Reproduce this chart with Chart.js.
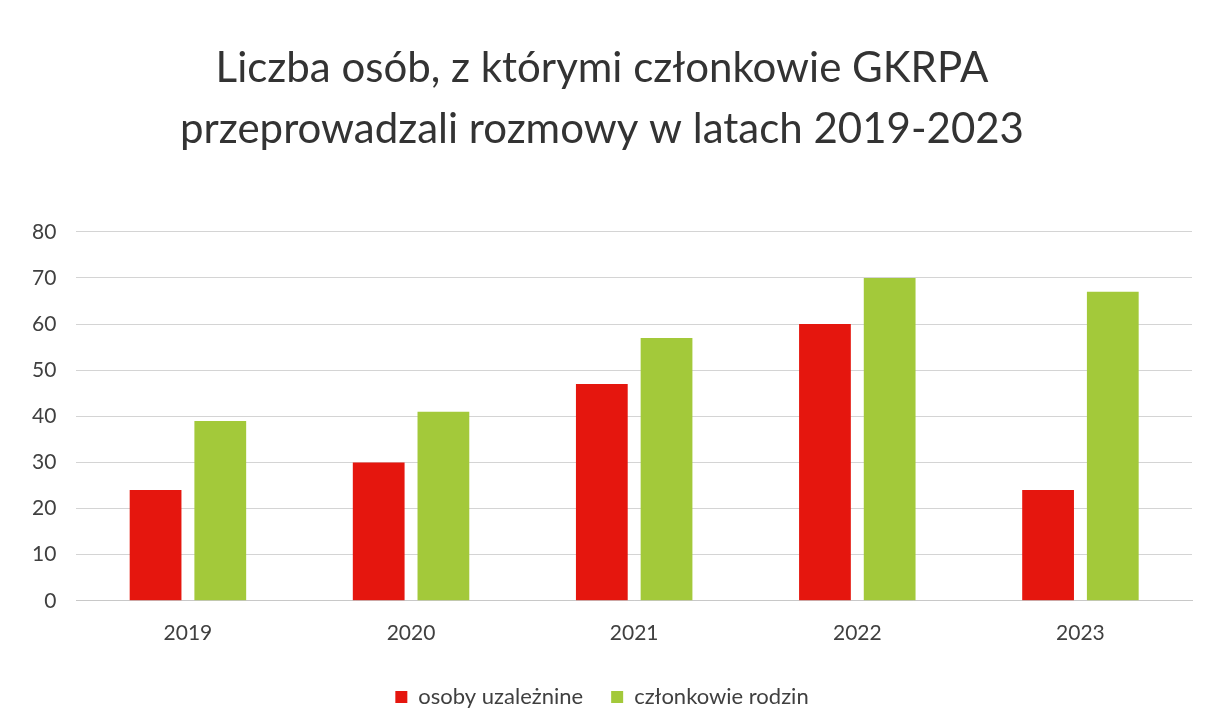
<!DOCTYPE html>
<html>
<head>
<meta charset="utf-8">
<script src="https://cdn.jsdelivr.net/npm/chart.js@4"></script>
<style>
  html, body { margin: 0; padding: 0; background: #fff; }
  #wrap { width: 1216px; height: 724px; }
</style>
</head>
<body>
<div id="wrap"><canvas id="myChart" width="1216" height="724"></canvas></div>
<script>
const years = ['2019', '2020', '2021', '2022', '2023'];
const uzaleznieni = [24, 30, 47, 60, 24];
const rodziny = [39, 41, 57, 70, 67];
const yTicks = [0, 10, 20, 30, 40, 50, 60, 70, 80];

const ctx = document.getElementById('myChart').getContext('2d');
const myChart = new Chart(ctx, {
    type: 'bar',
    data: {
        labels: years,
        datasets: [{
            label: 'osoby uzależnine',
            data: uzaleznieni,
            backgroundColor: '#e5160e',
            categoryPercentage: 0.58,
            barPercentage: 0.8
        }, {
            label: 'członkowie rodzin',
            data: rodziny,
            backgroundColor: '#a3c93a',
            categoryPercentage: 0.58,
            barPercentage: 0.8
        }]
    },
    options: {
        responsive: false,
        animation: false,
        layout: {
            padding: { left: 12, right: 24, top: 0, bottom: 6 }
        },
        scales: {
            y: {
                min: yTicks[0],
                max: yTicks[yTicks.length - 1],
                afterBuildTicks: (axis) => {
                    axis.ticks = yTicks.map(v => ({ value: v }));
                },
                grid: { color: '#d4d4d4', drawTicks: false },
                border: { display: false },
                ticks: {
                    color: '#404040',
                    padding: 20,
                    font: { family: 'Lato', size: 21 }
                }
            },
            x: {
                grid: { display: false },
                border: { color: '#c8c8c8' },
                ticks: {
                    color: '#404040',
                    padding: 12,
                    font: { family: 'Lato', size: 21 }
                }
            }
        },
        plugins: {
            title: {
                display: true,
                text: ['Liczba osób, z którymi członkowie GKRPA', 'przeprowadzali rozmowy w latach 2019-2023'],
                color: '#333333',
                font: { family: 'Lato', size: 42, weight: 'normal', lineHeight: 1.45 },
                padding: { top: 38, bottom: 72 }
            },
            legend: {
                position: 'bottom',
                labels: {
                    color: '#404040',
                    boxWidth: 12,
                    boxHeight: 12,
                    padding: 28,
                    font: { family: 'Lato', size: 22 }
                }
            },
            tooltip: { enabled: false }
        }
    }
});
</script>
</body>
</html>
